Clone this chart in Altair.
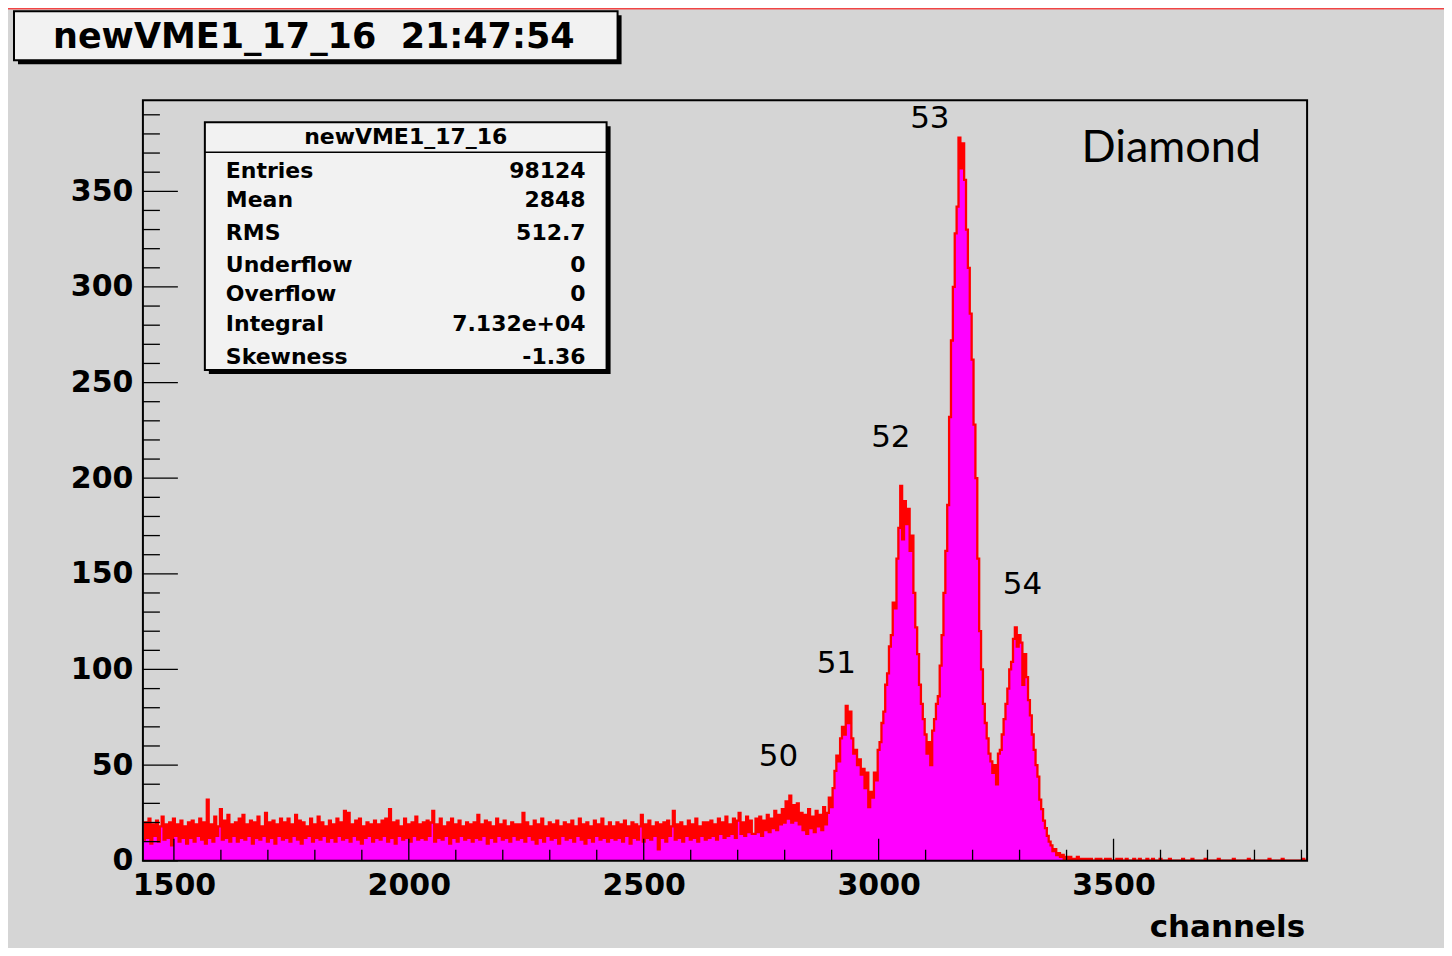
import altair as alt
import pandas as pd

# ---------------- data ----------------
BIN_START = 1434      # first bin low edge (channels)
BIN_WIDTH = 4         # channels per bin
counts = [
    # 1434
    11, 20, 12, 22, 9, 19, 13, 21, 10, 18, 23, 11, 19, 12, 20, 8, 22, 13, 19, 10, 21, 12, 18, 9, 20,
    # 1534
    12, 21, 10, 19, 13, 22, 11, 20, 9, 32, 12, 19, 10, 23, 13, 18, 27, 11, 21, 12, 24, 10, 19, 13, 20,
    # 1634
    10, 22, 12, 24, 11, 19, 13, 21, 9, 20, 12, 23, 11, 18, 13, 25, 10, 20, 12, 21, 9, 19, 13, 22, 11,
    # 1734
    20, 12, 22, 10, 19, 13, 24, 11, 21, 9, 20, 12, 18, 13, 22, 10, 19, 12, 23, 11, 20, 13, 18, 10, 21,
    # 1834
    12, 19, 10, 22, 13, 20, 11, 26, 12, 25, 10, 19, 13, 21, 11, 22, 9, 18, 12, 20, 13, 19, 10, 21, 12,
    # 1934
    19, 11, 21, 13, 22, 10, 27, 12, 20, 9, 21, 13, 18, 11, 22, 12, 19, 10, 20, 13, 23, 11, 19, 12, 20,
    # 2034
    11, 21, 13, 20, 26, 10, 19, 12, 22, 11, 18, 13, 20, 9, 22, 12, 19, 10, 21, 13, 18, 11, 20, 12, 19,
    # 2134
    10, 20, 12, 24, 11, 19, 13, 21, 9, 20, 12, 18, 10, 22, 13, 19, 11, 21, 12, 18, 10, 20, 13, 19, 11,
    # 2234
    19, 12, 25, 10, 20, 13, 18, 11, 21, 9, 19, 12, 22, 10, 18, 13, 20, 11, 19, 12, 21, 9, 18, 13, 20,
    # 2334
    11, 19, 12, 21, 10, 18, 13, 22, 11, 19, 9, 20, 12, 18, 10, 21, 13, 19, 11, 22, 12, 18, 10, 20, 12,
    # 2434
    18, 11, 20, 12, 19, 10, 21, 13, 18, 9, 20, 12, 19, 11, 18, 24, 10, 19, 12, 21, 11, 18, 13, 20, 6,
    # 2534
    19, 12, 20, 10, 21, 13, 18, 26, 11, 19, 12, 20, 10, 18, 13, 21, 11, 19, 12, 22, 10, 18, 13, 20, 11,
    # 2634
    20, 12, 21, 13, 19, 11, 22, 14, 20, 12, 23, 13, 19, 14, 22, 12, 21, 25, 14, 20, 13, 23, 15, 21, 14,
    # 2734
    14, 22, 15, 23, 13, 21, 16, 24, 15, 22, 17, 26, 16, 24, 19, 27, 20, 31, 22, 34, 20, 29, 21, 30, 19,
    # 2834
    25, 16, 24, 14, 27, 17, 23, 15, 26, 18, 24, 16, 28, 19, 25, 33, 28, 38, 47, 55, 52, 64, 70, 66, 81,
    # 2934
    72, 78, 64, 56, 58, 50, 53, 45, 48, 38, 46, 28, 36, 33, 46, 42, 58, 62, 72, 78, 92, 98, 112, 118, 135,
    # 3034
    132, 158, 174, 196, 168, 188, 176, 184, 162, 170, 140, 122, 108, 92, 82, 74, 66, 56, 62, 50, 68, 74, 82, 86, 102,
    # 3134
    118, 140, 162, 186, 232, 272, 300, 328, 342, 378, 362, 375, 356, 330, 310, 286, 262, 228, 200, 158, 120, 100, 82, 72, 64,
    # 3234
    56, 52, 46, 50, 40, 56, 58, 66, 74, 82, 90, 100, 104, 116, 122, 112, 118, 114, 92, 108, 96, 84, 76, 66, 58,
    # 3334
    50, 44, 32, 27, 21, 17, 13, 10, 8, 5, 6, 3, 4, 2, 3, 1, 2, 1, 2, 1, 0, 1, 2, 0, 1,
    # 3434
    0, 1, 0, 1, 1, 0, 0, 1, 0, 1, 0, 0, 1, 0, 1, 0, 0, 0, 1, 0, 1, 0, 0, 1, 0,
    # 3534
    0, 0, 1, 0, 0, 1, 0, 0, 0, 1, 0, 0, 1, 0, 0, 0, 1, 0, 0, 0, 0, 1, 0, 0, 0,
    # 3634
    0, 0, 0, 1, 0, 0, 0, 0, 1, 0, 0, 0, 0, 0, 0, 1, 0, 0, 0, 0, 0, 0, 1, 0, 0,
    # 3734
    0, 0, 0, 0, 0, 1, 0, 0, 0, 0, 0, 0, 0, 1, 0, 0, 0, 0, 0, 0, 0, 0, 0, 0, 1,
    # 3834
    0, 0, 0, 0, 0, 0, 1, 0, 0, 0, 0, 0, 0, 0, 0, 0, 0, 1, 0, 0, 0, 0, 0, 0, 0,
]

X_DOMAIN = [1434, 3912]
Y_DOMAIN = [0, 397.6]

x_major_ticks = [1500, 2000, 2500, 3000, 3500]
x_minor_ticks = [v for v in range(1600, 3901, 100) if v % 500]
y_major_ticks = [0, 50, 100, 150, 200, 250, 300, 350]
y_minor_ticks = [v for v in range(10, 391, 10) if v % 50]

peak_names = ["50", "51", "52", "53", "54"]
peak_name_ch = [2787, 2910, 3026, 3109, 3306]
peak_name_n = [54, 103, 221, 388, 144]

title_text = "newVME1_17_16\u00a0 21:47:54"
stats_title = "newVME1_17_16"
stats_names = ["Entries", "Mean", "RMS", "Underflow", "Overflow", "Integral", "Skewness"]
stats_values = ["98124", "2848", "512.7", "0", "0", "7.132e+04", "-1.36"]

# ---------------- layout / style ----------------
W, H = 1165, 761
FONT = "DejaVu Sans"
BG = "#d5d5d5"
BOXFILL = "#f2f2f2"

hist = pd.DataFrame({
    "ch": [BIN_START + BIN_WIDTH * i for i in range(len(counts) + 1)],
    "n": counts + [counts[-1]],
})

xscale = alt.Scale(domain=X_DOMAIN, nice=False, zero=False)
yscale = alt.Scale(domain=Y_DOMAIN, nice=False, zero=False)

x_axis = alt.Axis(values=x_major_ticks, format="d", title=None, grid=False, ticks=False,
                  domain=False, labelFont=FONT, labelFontWeight="bold", labelFontSize=30,
                  labelColor="black", labelPadding=25, labelBaseline="middle",
                  labelFlush=False, labelOverlap=False)
y_axis = alt.Axis(values=y_major_ticks, format="d", title=None, grid=False, ticks=False,
                  domain=False, labelFont=FONT, labelFontWeight="bold", labelFontSize=30,
                  labelColor="black", labelPadding=10, labelFlush=False, labelOverlap=False)

area = alt.Chart(hist).mark_area(interpolate="step-after", color="#ff00ff", clip=True).encode(
    x=alt.X("ch:Q", scale=xscale, axis=x_axis),
    y=alt.Y("n:Q", scale=yscale, axis=y_axis),
)
outline = alt.Chart(hist).mark_line(interpolate="step-after", color="#ff0000",
                                    strokeWidth=2.3, clip=True).encode(
    x=alt.X("ch:Q", scale=xscale, axis=x_axis),
    y=alt.Y("n:Q", scale=yscale, axis=y_axis),
)


def yticks(vals, length):
    return alt.Chart(pd.DataFrame({"v": vals})).mark_rule(color="black", strokeWidth=1.3).encode(
        y=alt.Y("v:Q", scale=yscale, axis=y_axis), x=alt.value(0), x2=alt.value(length))


def xticks(vals, length):
    return alt.Chart(pd.DataFrame({"v": vals})).mark_rule(color="black", strokeWidth=1.3).encode(
        x=alt.X("v:Q", scale=xscale, axis=x_axis), y=alt.value(H), y2=alt.value(H - length))


one = pd.DataFrame({"k": [0]})


def rect(x1, x2, y1, y2, **kw):
    return alt.Chart(one).mark_rect(**kw).encode(
        x=alt.value(x1), x2=alt.value(x2), y=alt.value(y1), y2=alt.value(y2))


def text(s, x, y, size, weight="normal", align="left", baseline="alphabetic", font=FONT):
    return alt.Chart(one).mark_text(text=s, align=align, baseline=baseline, font=font,
                                    fontSize=size, fontWeight=weight, color="black").encode(
        x=alt.value(x), y=alt.value(y))


frame = rect(0, W, 0, H, fillOpacity=0, stroke="black", strokeWidth=2)

peaks = alt.Chart(pd.DataFrame({"lab": peak_names, "ch": peak_name_ch, "n": peak_name_n})).mark_text(
    font=FONT, fontSize=31, color="black", align="center", baseline="middle").encode(
    x=alt.X("ch:Q", scale=xscale, axis=x_axis),
    y=alt.Y("n:Q", scale=yscale, axis=y_axis),
    text="lab:N",
)

diamond = text("Diamond", 1029, 62, 45, align="center", font="Comic Sans MS, Lato")
xtitle = text("channels", 1163, 837, 31, weight="bold", align="right")

# title box
title_layers = [
    rect(-125, 479, -85, -36, fill="black"),
    rect(-129, 475, -89, -40, fill=BOXFILL, stroke="black", strokeWidth=2),
    text(title_text, 171, -52, 35, weight="bold", align="center"),
]

# stats box
row_base = [78, 107, 140, 172, 201, 231, 264]
stats_layers = [
    rect(66, 468, 26, 274, fill="black"),
    rect(62, 464, 22, 270, fill=BOXFILL, stroke="black", strokeWidth=2),
    alt.Chart(one).mark_rule(color="black", strokeWidth=1.5).encode(
        x=alt.value(62), x2=alt.value(464), y=alt.value(52)),
    text(stats_title, 263, 44, 22, weight="bold", align="center"),
]
for name, val, yb in zip(stats_names, stats_values, row_base):
    stats_layers.append(text(name, 83, yb, 22, weight="bold", align="left"))
    stats_layers.append(text(val, 443, yb, 22, weight="bold", align="right"))

top_line = alt.Chart(one).mark_rule(color="#ff0000", strokeWidth=1).encode(
    x=alt.value(-135), x2=alt.value(W + 137), y=alt.value(-91.5))

chart = alt.layer(
    area, outline,
    yticks(y_major_ticks, 35), yticks(y_minor_ticks, 17),
    xticks(x_major_ticks, 22), xticks(x_minor_ticks, 11),
    frame, peaks, diamond, xtitle, top_line,
    *title_layers, *stats_layers,
).properties(
    width=W, height=H,
    padding={"left": 135, "top": 92, "right": 137, "bottom": 87},
    autosize=alt.AutoSizeParams(type="none"),
).configure(background=BG).configure_view(strokeWidth=0)

chart.save("out.html", embed_options={"renderer": "svg", "actions": False})
